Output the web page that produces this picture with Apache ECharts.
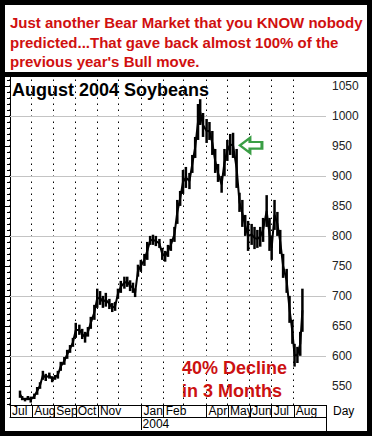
<!DOCTYPE html>
<html><head><meta charset="utf-8">
<script src="https://cdn.jsdelivr.net/npm/echarts@6/dist/echarts.min.js"></script>
<style>html,body{margin:0;padding:0;background:#fff}#c{width:372px;height:436px}</style>
</head><body><div id="c"></div>
<script>
// x values: calendar days since 2003-07-01
const days = [14,17,21,25,29,34,38,42,46,50,55,59,63,67,71,76,80,84,88,92,97,101,105,109,113,118,122,126,130,134,139,143,147,151,155,160,164,168,172,175,179,183,188,192,196,200,204,209,213,217,221,225,230,234,238,242,246,251,255,259,263,266,270,275,279,283,287,291,296,300,304,308,312,317,321,325,329,333,338,342,346,350,354,359,363,366,370,374,378,382,387,391,395,398,402,406,409];
const lows = [530,526,524,526,522,528,535,545,560,558,562,556,560,562,575,585,595,605,615,630,635,628,622,632,645,660,680,685,680,682,678,673,675,695,705,712,715,708,705,698,732,740,750,760,785,785,783,780,760,757,765,775,790,820,850,870,880,878,905,930,960,985,965,955,960,935,905,890,872,900,925,935,930,880,840,815,800,775,785,778,780,782,790,815,775,760,810,800,770,730,705,655,620,582,588,600,640];
const highs = [542,533,530,533,532,537,548,556,575,570,572,566,568,575,590,598,610,618,630,655,652,645,640,648,665,685,712,708,700,705,695,688,690,712,725,732,732,726,722,712,752,760,770,790,800,802,800,795,780,775,785,795,815,860,875,910,915,905,935,965,1020,1028,1005,995,990,975,945,920,900,945,960,970,972,945,872,860,835,825,820,815,810,815,830,868,830,800,860,840,810,770,745,700,660,620,615,640,712];
const yLabelValues = [550,600,650,700,750,800,850,900,950,1000,1050];
const gridValues = [600,700,800,900,1000];
const monthStarts = [0,31,62,92,123,153,184,215,244,275,305,336,366,397];
const monthTicks = [0,31,62,92,123,184,215,275,305,336,366,397];
const monthNames = ['Jul','Aug','Sep','Oct','Nov','Jan','Feb','Apr','May','Jun','Jul','Aug'];
const yearTicks = [184];
const yearNames = ['2004'];
const titleLines = ["Just another Bear Market that you KNOW nobody","predicted...That gave back almost 100% of the","previous year's Bull move."];
const chartTitle = 'August 2004 Soybeans';
const noteLines = ['40% Decline','in 3 Months'];
const arrowAt = [337, 951];

const FONT = '"Liberation Sans", Arial, sans-serif';
const minorTicks = [];
for (let v = 520; v <= 1060; v += 10) minorTicks.push(v);

const chart = echarts.init(document.getElementById('c'), null, {renderer: 'svg'});
const YMIN = 518, YMAX = 1065, XMIN = 0, XMAX = 442;

chart.setOption({
  animation: false,
  backgroundColor: '#fff',
  grid: {left: 10, right: 46, top: 77, bottom: 31, containLabel: false},
  xAxis: [{
    type: 'value', min: XMIN, max: XMAX, position: 'bottom',
    axisLine: {show: true, lineStyle: {color: '#000', width: 1}},
    axisTick: {show: true, customValues: monthTicks, length: 12, inside: false, lineStyle: {color: '#000', width: 1}},
    axisLabel: {show: true, customValues: monthTicks, formatter: v => monthNames[monthTicks.indexOf(v)] || '',
      align: 'left', padding: [0, 0, 0, 2], margin: 0, lineHeight: 11, color: '#000', fontSize: 12, fontFamily: FONT},
    splitLine: {show: false}
  }, {
    type: 'value', min: XMIN, max: XMAX, position: 'bottom', offset: 12,
    axisLine: {show: true, lineStyle: {color: '#000', width: 1}},
    axisTick: {show: true, customValues: yearTicks, length: 13, inside: false, lineStyle: {color: '#000', width: 1}},
    axisLabel: {show: true, customValues: yearTicks, formatter: v => yearNames[yearTicks.indexOf(v)] || '',
      align: 'left', padding: [0, 0, 0, 1], margin: 1, lineHeight: 11, color: '#000', fontSize: 12, fontFamily: FONT},
    splitLine: {show: false}
  }],
  yAxis: [{
    type: 'value', min: YMIN, max: YMAX, position: 'right',
    axisLine: {show: true, lineStyle: {color: '#000', width: 1}},
    axisTick: {show: true, customValues: minorTicks, inside: true, length: 3, lineStyle: {color: '#000'}},
    axisLabel: {show: true, customValues: yLabelValues, formatter: v => String(v), margin: 6, color: '#222', fontSize: 12, fontFamily: FONT},
    splitLine: {show: false}
  }, {
    type: 'value', min: YMIN, max: YMAX, position: 'right',
    axisLine: {show: false},
    axisTick: {show: true, customValues: yLabelValues, inside: true, length: 5, lineStyle: {color: '#000'}},
    axisLabel: {show: false},
    splitLine: {show: false}
  }],
  series: [{
    // vertical dotted month lines
    type: 'custom', z: 1, xAxisIndex: 0, yAxisIndex: 0,
    data: monthStarts.map(d => [d, YMIN, YMAX]),
    renderItem: (params, api) => {
      const a = api.coord([api.value(0), api.value(1)]);
      const b = api.coord([api.value(0), api.value(2)]);
      const x = Math.round(a[0]) - 0.5;
      return {type: 'line', shape: {x1: x, y1: a[1], x2: x, y2: b[1]},
        style: {stroke: '#000', lineWidth: 1, lineDash: [1.5, 4.5]}};
    }
  }, {
    // horizontal price lines
    type: 'custom', z: 1, xAxisIndex: 0, yAxisIndex: 0,
    data: gridValues.map(v => [XMIN, v, XMAX]),
    renderItem: (params, api) => {
      const a = api.coord([api.value(0), api.value(1)]);
      const b = api.coord([api.value(2), api.value(1)]);
      const y = Math.round(a[1]) + 0.5;
      return {type: 'line', shape: {x1: a[0], y1: y, x2: b[0], y2: y},
        style: {stroke: '#c4c4c4', lineWidth: 1}};
    }
  }, {
    type: 'line', z: 2, xAxisIndex: 0, yAxisIndex: 0,
    data: days.map((d, i) => [d, (lows[i] + highs[i]) / 2]),
    symbol: 'none', lineStyle: {color: '#000', width: 2},
    markPoint: {
      silent: true,
      data: [{coord: arrowAt}],
      symbol: 'path://M0,8 L10,0 L10,4.5 L22,4.5 L22,11.5 L10,11.5 L10,16 Z',
      symbolSize: [22, 15],
      itemStyle: {color: '#fff', borderColor: '#3a9e45', borderWidth: 2.5},
      label: {show: false}
    }
  }, {
    type: 'custom', z: 3, xAxisIndex: 0, yAxisIndex: 0,
    data: days.map((d, i) => [d, lows[i], highs[i]]),
    renderItem: (params, api) => {
      const a = api.coord([api.value(0), api.value(1)]);
      const b = api.coord([api.value(0), api.value(2)]);
      return {type: 'line', shape: {x1: a[0], y1: a[1], x2: b[0], y2: b[1]}, style: {stroke: '#000', lineWidth: 2.5}};
    }
  }],
  graphic: [
    {type: 'rect', shape: {x: 2.5, y: 2.5, width: 367, height: 431}, style: {fill: 'none', stroke: '#000', lineWidth: 5}, z: 100},
    {type: 'line', shape: {x1: 0, y1: 74.5, x2: 372, y2: 74.5}, style: {stroke: '#000', lineWidth: 5}, z: 100},
    {type: 'line', shape: {x1: 326.5, y1: 405, x2: 326.5, y2: 432}, style: {stroke: '#000', lineWidth: 1}, z: 100},
    {type: 'text', x: 333, y: 411, style: {text: 'Day', fill: '#000', font: '12px ' + FONT, textVerticalAlign: 'middle'}, z: 100},
    ...titleLines.map((t, i) => ({type: 'text', x: 10, y: [22, 42, 61][i],
      style: {text: t, fill: '#d01010', font: 'bold 15px ' + FONT, textVerticalAlign: 'middle'}, z: 100})),
    {type: 'text', x: 12, y: 90, style: {text: chartTitle, fill: '#000', font: 'bold 18px ' + FONT, textVerticalAlign: 'middle'}, z: 100},
    ...noteLines.map((t, i) => ({type: 'text', x: 182, y: [368, 391][i],
      style: {text: t, fill: '#cc1111', font: 'bold 18px ' + FONT, textVerticalAlign: 'middle'}, z: 100}))
  ]
});
</script></body></html>
